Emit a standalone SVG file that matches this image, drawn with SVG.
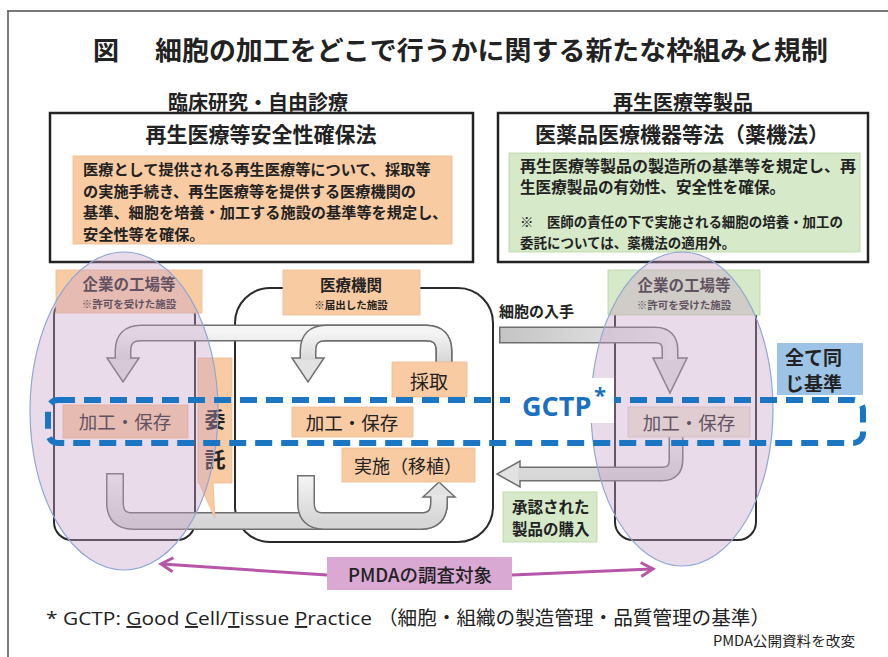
<svg xmlns="http://www.w3.org/2000/svg" width="888" height="657" viewBox="0 0 888 657">
<style>
.t{font-family:"Noto Sans CJK JP","Noto Sans",sans-serif;fill:#222}
.b{font-weight:700}
.c{text-anchor:middle;dominant-baseline:central}
.m{dominant-baseline:central}
.box{fill:none;stroke:#222;stroke-width:2.5}
.rr{fill:none;stroke:#2a2a2a;stroke-width:2}
.pe{fill:#F9CBA3;stroke:#EDB88E;stroke-width:0.8}
.gr{fill:#D6E9C8;stroke:#B6D59E;stroke-width:0.8}
.ao{fill:none;stroke:#6e6e6e}
.ai{fill:none;stroke:url(#gv)}
.ah{fill:#e2e2e2;stroke:#6e6e6e;stroke-width:1.5;stroke-linejoin:miter}
.el{fill:#C8A0C8;fill-opacity:0.38;stroke:#8FA8D4;stroke-width:1.2}
.pm{stroke:#B556A8;stroke-width:3;fill:none;marker-end:url(#mk)}
</style>
<defs>
<linearGradient id="gv" x1="0" y1="0" x2="0" y2="1">
<stop offset="0" stop-color="#f4f4f4"/><stop offset="1" stop-color="#d6d6d6"/>
</linearGradient>
<linearGradient id="gh" x1="0" y1="0" x2="1" y2="0">
<stop offset="0" stop-color="#c4c4c4"/><stop offset="1" stop-color="#ececec"/>
</linearGradient>
<marker id="mk" markerUnits="userSpaceOnUse" markerWidth="20" markerHeight="20" refX="13" refY="8" orient="auto">
<path d="M2,1 L14,8 L2,15" fill="none" stroke="#B556A8" stroke-width="3"/>
</marker>
</defs>
<rect width="888" height="657" fill="#fff"/>
<g id="frame">
<line x1="7" y1="11" x2="888" y2="11" stroke="#7a7a7a" stroke-width="2"/>
<line x1="8" y1="11" x2="8" y2="657" stroke="#555" stroke-width="1.5"/>
</g>
<g id="title">
<text class="t c b" x="106" y="48" font-size="26">図</text>
<text class="t m b" x="155" y="48" font-size="26" textLength="673" lengthAdjust="spacingAndGlyphs">細胞の加工をどこで行うかに関する新たな枠組みと規制</text>
</g>
<g id="left-law">
<text class="t c b" x="258" y="101" font-size="20">臨床研究・自由診療</text>
<rect class="box" x="50" y="113" width="423" height="149"/>
<text class="t c b" x="261" y="133" font-size="21">再生医療等安全性確保法</text>
<rect class="pe" x="73" y="156" width="379" height="88"/>
<text class="t b" x="83" font-size="15.2">
<tspan x="83" y="175">医療として提供される再生医療等について、採取等</tspan>
<tspan x="83" y="197">の実施手続き、再生医療等を提供する医療機関の</tspan>
<tspan x="83" y="218">基準、細胞を培養・加工する施設の基準等を規定し、</tspan>
<tspan x="83" y="240">安全性等を確保。</tspan>
</text>
</g>
<g id="right-law">
<text class="t c b" x="683" y="101" font-size="20">再生医療等製品</text>
<rect class="box" x="498" y="113" width="370" height="149"/>
<text class="t c b" x="682" y="133" font-size="21">医薬品医療機器等法（薬機法）</text>
<rect class="gr" x="509" y="153" width="351" height="99"/>
<text class="t b" font-size="15.6">
<tspan x="520" y="172" textLength="336" lengthAdjust="spacingAndGlyphs">再生医療等製品の製造所の基準等を規定し、再</tspan>
<tspan x="520" y="193">生医療製品の有効性、安全性を確保。</tspan>
</text>
<text class="t b" font-size="13.5">
<tspan x="520" y="227" textLength="323" lengthAdjust="spacingAndGlyphs">※　医師の責任の下で実施される細胞の培養・加工の</tspan>
<tspan x="520" y="248">委託については、薬機法の適用外。</tspan>
</text>
</g>
<g id="facility-left"><rect class="rr" x="54" y="298" width="141" height="242" rx="18"/></g>
<g id="facility-mid"><rect class="rr" x="235" y="288" width="258" height="254" rx="35"/></g>
<g id="facility-right"><rect class="rr" x="615" y="298" width="141" height="242" rx="18"/></g>
<g id="connectors">
<path class="ao" stroke-width="17" d="M444,363 V351 Q444,333 426,333 H141 Q123,333 123,351 V360"/>
<polygon class="ah" points="107,358 139,358 123,382"/>
<path class="ai" stroke-width="14" d="M444,363 V351 Q444,333 426,333 H141 Q123,333 123,351 V360"/>
<path class="ao" stroke-width="17" d="M444,363 V351 Q444,333 426,333 H326 Q308,333 308,351 V360"/>
<polygon class="ah" points="292,358 324,358 308,382"/>
<path class="ai" stroke-width="14" d="M444,363 V351 Q444,333 426,333 H326 Q308,333 308,351 V360"/>
<path class="ao" stroke-width="18" d="M115,473 V503 Q115,521 133,521 H421 Q439,521 439,503 V495"/>
<path class="ai" stroke-width="15" d="M115,474.5 V503 Q115,521 133,521 H421 Q439,521 439,503 V495"/>
<path class="ao" stroke-width="18" d="M306,475 V503 Q306,521 324,521 H421 Q439,521 439,503 V495"/>
<polygon class="ah" points="423,497 455,497 439,482"/>
<path class="ai" stroke-width="15" d="M306,476.5 V503 Q306,521 324,521 H421 Q439,521 439,503 V495"/>
<path class="ao" stroke-width="17" d="M499,335 H655 Q670,335 670,350 V360"/>
<polygon class="ah" points="653,358 687,358 670,393"/>
<path fill="none" stroke="url(#gh)" stroke-width="14" d="M500.5,335 H655 Q670,335 670,350 V360"/>
<path class="ao" stroke-width="15" d="M676,436 V460 Q676,474 662,474 H520"/>
<polygon class="ah" points="520,461 520,487 497,474"/>
<path class="ai" stroke-width="12" d="M676,436 V460 Q676,474 662,474 H518"/>
</g>
<g id="label-company-left">
<rect class="pe" x="56" y="270" width="146" height="43"/>
<text class="t c b" x="129" y="283" font-size="15.5">企業の工場等</text>
<text class="t c b" x="129" y="303" font-size="10.5">※許可を受けた施設</text>
</g>
<g id="label-hospital">
<rect class="pe" x="283" y="270" width="137" height="45"/>
<text class="t c b" x="351" y="284" font-size="15.5">医療機関</text>
<text class="t c b" x="351" y="304" font-size="10.5">※届出した施設</text>
</g>
<g id="label-company-right">
<rect class="gr" x="608" y="270" width="152" height="45"/>
<text class="t c b" x="684" y="284" font-size="15.5">企業の工場等</text>
<text class="t c b" x="684" y="304" font-size="10.5">※許可を受けた施設</text>
</g>
<g id="itaku">
<polygon class="pe" points="198,358 232,358 232,483 213,483 215,518 199,483 198,483"/>
<text class="t c b" x="215" y="418" font-size="21">委</text>
<text class="t c b" x="215" y="458" font-size="21">託</text>
</g>
<g id="process-left"><rect class="pe" x="63" y="405" width="125" height="33"/><text class="t c" x="125" y="421" font-size="18.5">加工・保存</text></g>
<g id="process-mid"><rect class="pe" x="292" y="407" width="121" height="30"/><text class="t c" x="352" y="422" font-size="18.5">加工・保存</text></g>
<g id="process-right"><rect x="628" y="407" width="122" height="30" fill="#EEE8D8" stroke="#d8cfbc" stroke-width="0.8"/><text class="t c" x="689" y="422" font-size="18.5">加工・保存</text></g>
<g id="saishu"><rect class="pe" x="392" y="362" width="75" height="35"/><text class="t c" x="429" y="380" font-size="19">採取</text></g>
<g id="jisshi"><rect class="pe" x="342" y="448" width="133" height="34"/><text class="t c" x="408" y="465" font-size="18">実施（移植）</text></g>
<g id="cell-get"><text class="t m b" x="499" y="310" font-size="15">細胞の入手</text></g>
<g id="purchase"><rect class="gr" x="503" y="492" width="94" height="50"/>
<text class="t m b" x="512" y="506" font-size="15.5">承認された</text>
<text class="t m b" x="512" y="528" font-size="15.5">製品の購入</text></g>
<g id="ellipses">
<ellipse class="el" cx="124" cy="411" rx="94" ry="159"/>
<ellipse class="el" cx="682" cy="409" rx="91" ry="157"/>
</g>
<g id="gctp">
<rect x="48" y="400" width="815" height="43" rx="10" fill="none" stroke="#1A75C2" stroke-width="6" stroke-dasharray="17 9"/>
<rect x="510" y="378" width="104" height="45" fill="#fff"/>
<text x="522" y="405" class="m" font-family="'Open Sans','Noto Sans',sans-serif" font-weight="700" font-size="27" fill="#1A6FBF">GCTP</text>
<text x="594" y="394" class="m" font-family="'Open Sans','Noto Sans',sans-serif" font-weight="700" font-size="22" fill="#1A6FBF">*</text>
</g>
<g id="same-standard"><rect x="777" y="343" width="86" height="52" fill="#9DC3E6"/>
<text class="t m b" x="785" y="356" font-size="19">全て同</text>
<text class="t m b" x="785" y="382" font-size="19">じ基準</text></g>
<g id="pmda">
<line class="pm" x1="327" y1="575" x2="162" y2="564"/>
<line class="pm" x1="512" y1="575" x2="652" y2="569"/>
<rect x="327" y="557" width="185" height="33" fill="#D9A9D3"/>
<text class="t c" x="420" y="574" font-size="18.5" font-weight="500">PMDAの調査対象</text>
</g>
<g id="footnote">
<text x="46" y="625" font-family="'Open Sans','Noto Sans',sans-serif" font-size="19" fill="#222" textLength="326" lengthAdjust="spacingAndGlyphs">* GCTP: <tspan text-decoration="underline">G</tspan>ood <tspan text-decoration="underline">C</tspan>ell/<tspan text-decoration="underline">T</tspan>issue <tspan text-decoration="underline">P</tspan>ractice</text>
<text class="t" x="378" y="625" font-size="19.5" textLength="392" lengthAdjust="spacingAndGlyphs">（細胞・組織の製造管理・品質管理の基準）</text>
<text class="t" x="713" y="646" font-size="14" textLength="142" lengthAdjust="spacingAndGlyphs">PMDA公開資料を改変</text>
</g>
</svg>
